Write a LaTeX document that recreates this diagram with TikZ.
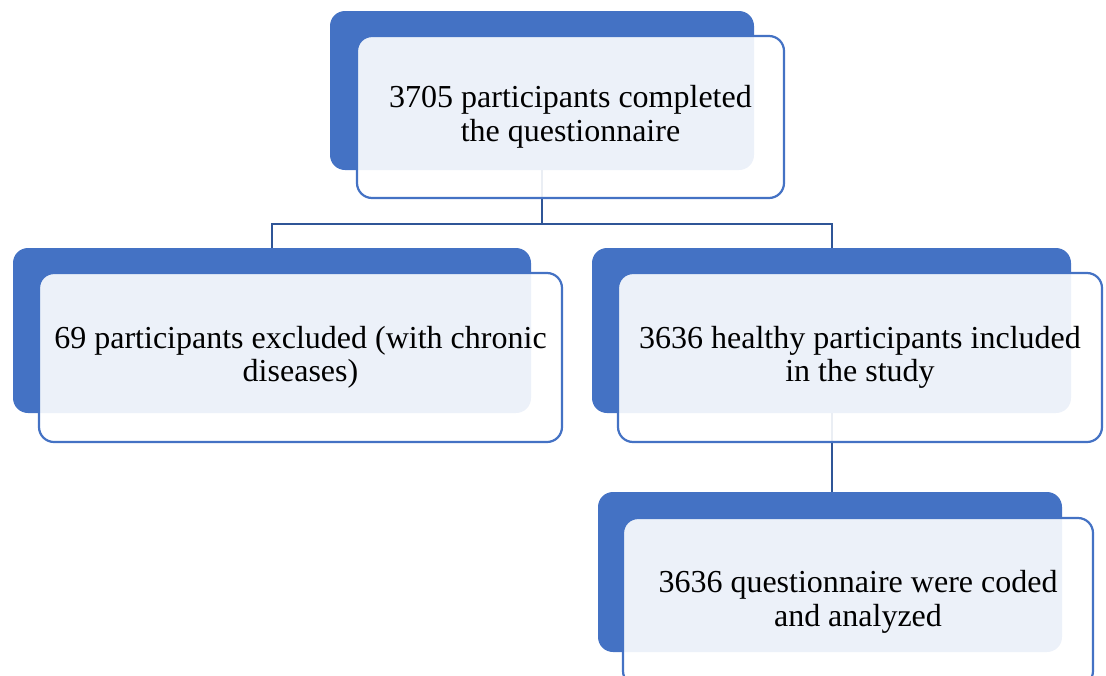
\documentclass[tikz,border=0pt]{standalone}
\usepackage{fontspec}
\setmainfont{Liberation Serif}
\definecolor{accent}{RGB}{68,114,196}
\definecolor{linkc}{RGB}{47,85,151}
\begin{document}
\begin{tikzpicture}[x=1pt,y=-1pt,
  backbox/.style={fill=accent,draw=none,rounded corners=15pt,inner sep=0pt},
  frontbox/.style={draw=accent,line width=2.2pt,fill=white,fill opacity=0.9,text opacity=1,
    rounded corners=15pt,inner sep=0pt,align=center,text=black,
    font=\fontsize{32}{33.5}\selectfont},
  link/.style={draw=linkc,line width=2pt}]
\useasboundingbox (0,0) rectangle (1106,675);
\clip (0,0) rectangle (1106,675);
% back boxes
\node[backbox,minimum width=424pt,minimum height=159pt] (tb) at (542,90.5) {};
\node[backbox,minimum width=518pt,minimum height=165pt] (lb) at (272,330.5) {};
\node[backbox,minimum width=479pt,minimum height=165pt] (rb) at (831.5,330.5) {};
\node[backbox,minimum width=464pt,minimum height=160pt] (bb) at (830,572) {};
% connectors
\coordinate (j) at (542,224);
\draw[link] (tb.south) -- (j) -| (lb.north);
\draw[link] (j) -| (rb.north);
\draw[link] (rb.south) -- (rb.south |- bb.north);
% front boxes
\node[frontbox,minimum width=427pt,minimum height=162pt] (tf) at (570.5,117) {3705 participants completed\\the questionnaire};
\node[frontbox,minimum width=523pt,minimum height=169pt] (lf) at (300.5,357.5) {69 participants excluded (with chronic\\diseases)};
\node[frontbox,minimum width=484pt,minimum height=169pt] (rf) at (860,357.5) {3636 healthy participants included\\in the study};
\node[frontbox,minimum width=470pt,minimum height=168pt] (bf) at (858,602) {3636 questionnaire were coded\\and analyzed};
\end{tikzpicture}
\end{document}
